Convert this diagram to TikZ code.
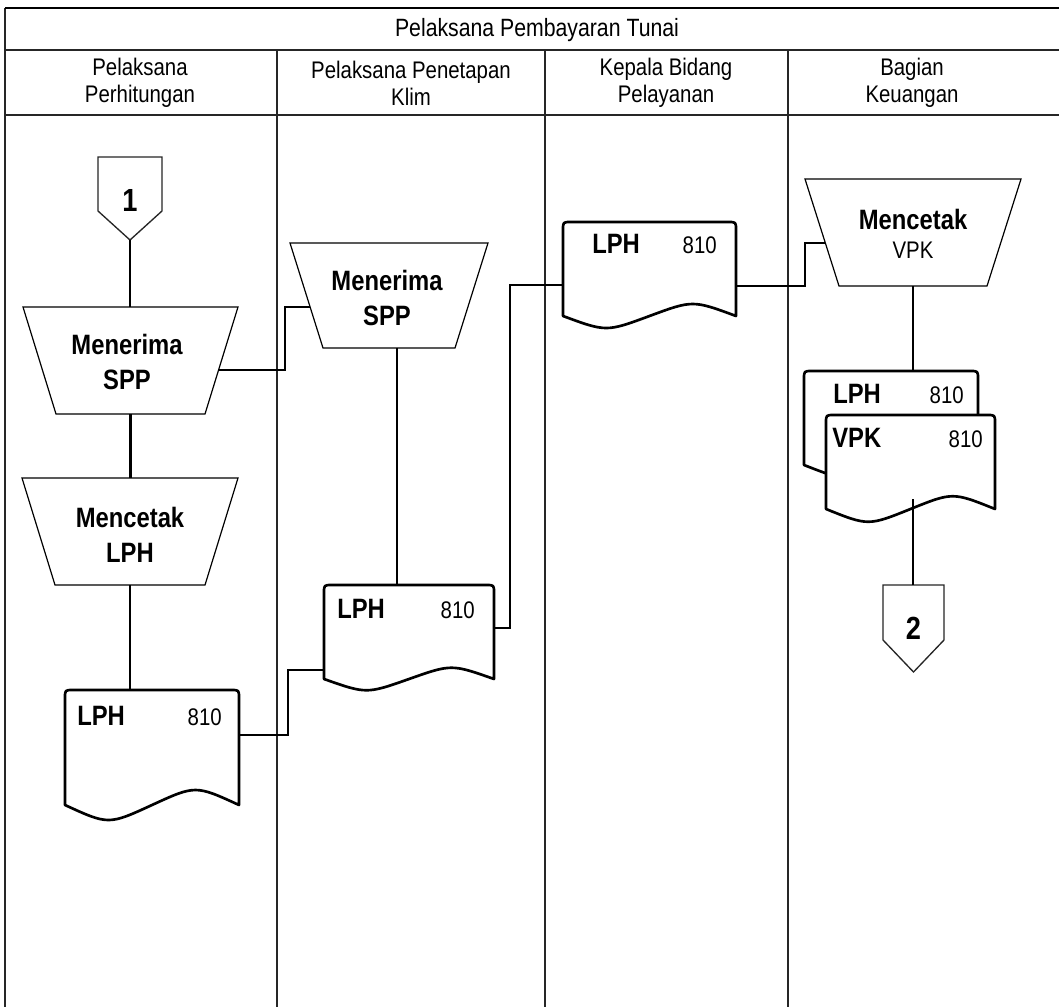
\documentclass[tikz,border=0pt]{standalone}
\usepackage{fontspec}
\setmainfont{Liberation Sans}[FakeStretch=0.85]
\usetikzlibrary{calc,fit}
\newcommand\trapout[2]{%
  \draw[trapline] (#1.north west) -- (#1.north east) -- ($(#1.south east)+(-#2,0)$) -- ($(#1.south west)+(#2,0)$) -- cycle;}
\newcommand\docout[2]{%
  \draw[docline] (#1.south west) -- ($(#1.north west)+(0,8)$) .. controls (#1.north west) .. ($(#1.north west)+(8,0)$)
    -- ($(#1.north east)+(-8,0)$) .. controls (#1.north east) .. ($(#1.north east)+(0,8)$)
    -- (#1.south east) .. controls ($(#1.south east)!0.25!(#1.south west)+(0,-#2)$) .. (#1.south)
    .. controls ($(#1.south west)!0.25!(#1.south east)+(0,#2)$) .. (#1.south west) -- cycle;}
\newcommand\offout[2]{%
  \draw[offline] (#1.south west) -- (#1.north west) -- (#1.north east) -- (#1.south east) -- ($(#1.south)+(0,#2)$) -- cycle;}
\begin{document}
\begin{tikzpicture}[x=0.75pt,y=-0.75pt,
  lane/.style={draw=black!85, line width=1pt},
  conn/.style={draw=black, line width=1.8pt},
  docline/.style={draw=black, line width=2pt, fill=white, line join=round},
  trapline/.style={draw=black, line width=0.9pt, fill=white},
  offline/.style={draw=black!85, line width=1pt, fill=white},
  area/.style={inner sep=0pt, outer sep=0pt, draw=none},
  titletxt/.style={font=\fontsize{18.75}{22}\selectfont},
  hdr/.style={font=\fontsize{18}{20.25}\selectfont, align=center, inner sep=0pt},
  shp/.style={font=\fontsize{21}{26.25}\selectfont\bfseries, align=center, inner sep=0pt},
  lbl/.style={font=\fontsize{21}{24}\selectfont\bfseries, inner sep=0pt},
  num/.style={font=\fontsize{18}{20}\selectfont, inner sep=0pt},
  digit/.style={font=\fontsize{24}{26}\selectfont\bfseries, inner sep=0pt}
]
\useasboundingbox (0,0) rectangle (1059,1007);
\fill[white] (0,0) rectangle (1059,1007);

% swimlane frame
\draw[lane] (5,8) -- (5,1007);
\draw[draw=black, line width=1.6pt] (5,8) -- (1059,8);
\draw[lane] (5,50) -- (1059,50);
\draw[lane] (5,115) -- (1059,115);
\draw[lane] (277,50) -- (277,1007);
\draw[lane] (545,50) -- (545,1007);
\draw[lane] (788,50) -- (788,1007);

\node[titletxt] (title) at (537,30) {Pelaksana Pembayaran Tunai};
\node[hdr] (h1) at (140,83) {Pelaksana\\Perhitungan};
\node[hdr] (h2) at (411,83) {Pelaksana Penetapan\\Klim};
\node[hdr] (h3) at (666,83) {Kepala Bidang\\Pelayanan};
\node[hdr] (h4) at (912,83) {Bagian\\Keuangan};

% off-page connectors
\node[area, fit={(98,157) (162,211)}] (c1) {};
\offout{c1}{29}
\coordinate (c1tip) at ($(c1.south)+(0,29)$);
\node[digit] (c1t) at (130,200) {1};

\node[area, fit={(883,585) (944,640)}] (c2) {};
\offout{c2}{32}
\node[digit] (c2t) at (913.5,628) {2};

% trapezoids
\node[area, fit={(23,307) (238,414)}] (t1) {};
\trapout{t1}{33}
\node[shp] (t1t) at (127,362) {Menerima\\SPP};

\node[area, fit={(22,478) (238,585)}] (t3) {};
\trapout{t3}{33}
\node[shp] (t3t) at (130,535) {Mencetak\\LPH};

\node[area, fit={(290,243) (488,348)}] (t2) {};
\trapout{t2}{33}
\node[shp] (t2t) at (387,298) {Menerima\\SPP};

\node[area, fit={(805,179) (1021,286)}] (t4) {};
\trapout{t4}{34}
\node[shp, font=\fontsize{21}{21.75}\selectfont\bfseries] (t4t) at (913,234) {Mencetak\\\fontsize{18}{21.75}\selectfont\mdseries VPK};

% documents
\node[area, fit={(65,690) (239,805)}] (d1) {};
\docout{d1}{20}
\node[lbl, anchor=base west] (d1a) at ($(d1.north west)+(12,35)$) {LPH};
\node[num, anchor=base east] (d1b) at ($(d1.north east)+(-17,35)$) {810};

\node[area, fit={(324,585) (494,679)}] (d2) {};
\docout{d2}{15}
\node[lbl, anchor=base west] (d2a) at ($(d2.north west)+(13,33)$) {LPH};
\node[num, anchor=base east] (d2b) at ($(d2.north east)+(-19,33)$) {810};

\node[area, fit={(563,222) (736,316)}] (d3) {};
\docout{d3}{16}
\node[lbl, anchor=base west] (d3a) at ($(d3.north west)+(29,31)$) {LPH};
\node[num, anchor=base east] (d3b) at ($(d3.north east)+(-19,31)$) {810};

\node[area, fit={(804,371) (978,465)}] (d4a) {};
\docout{d4a}{17}
\node[lbl, anchor=base west] (d4aa) at ($(d4a.north west)+(29,32)$) {LPH};
\node[num, anchor=base east] (d4ab) at ($(d4a.north east)+(-14,32)$) {810};

\node[area, fit={(826,415) (995,509)}] (d4b) {};
\docout{d4b}{17}
\node[lbl, anchor=base west] (d4ba) at ($(d4b.north west)+(6,32)$) {VPK};
\node[num, anchor=base east] (d4bb) at ($(d4b.north east)+(-12,32)$) {810};

% connectors
\coordinate (t1r) at (218,370);
\coordinate (t2l) at (310,307);
\coordinate (d1r) at ($(d1.north east)+(0,45)$);
\coordinate (d2l) at ($(d2.north west)+(0,85)$);
\coordinate (d2r) at ($(d2.north east)+(0,43)$);
\coordinate (d3l) at ($(d3.north west)+(0,63)$);
\coordinate (d3r) at ($(d3.north east)+(0,64)$);
\coordinate (t4l) at (825,243);
\coordinate (t2b) at (397,348);

\draw[conn] (c1tip) -- (c1tip |- t1.north);
\draw[conn] (t1r) -- ++(67,0) |- (t2l);
\draw[conn] (t1.south) -- (t1.south |- t3.north);
\draw[conn] (t3.south) -- (t3.south |- d1.north);
\draw[conn] (d1r) -- ++(49,0) |- (d2l);
\draw[conn] (t2b) -- (t2b |- d2.north);
\draw[conn] (d2r) -- ++(16,0) |- (d3l);
\draw[conn] (d3r) -- ++(69,0) |- (t4l);
\draw[conn] (t4.south) -- (t4.south |- d4a.north);
\draw[conn] ($(t4.south |- d4b.south)+(0,-10)$) -- (t4.south |- c2.north);
\end{tikzpicture}
\end{document}
